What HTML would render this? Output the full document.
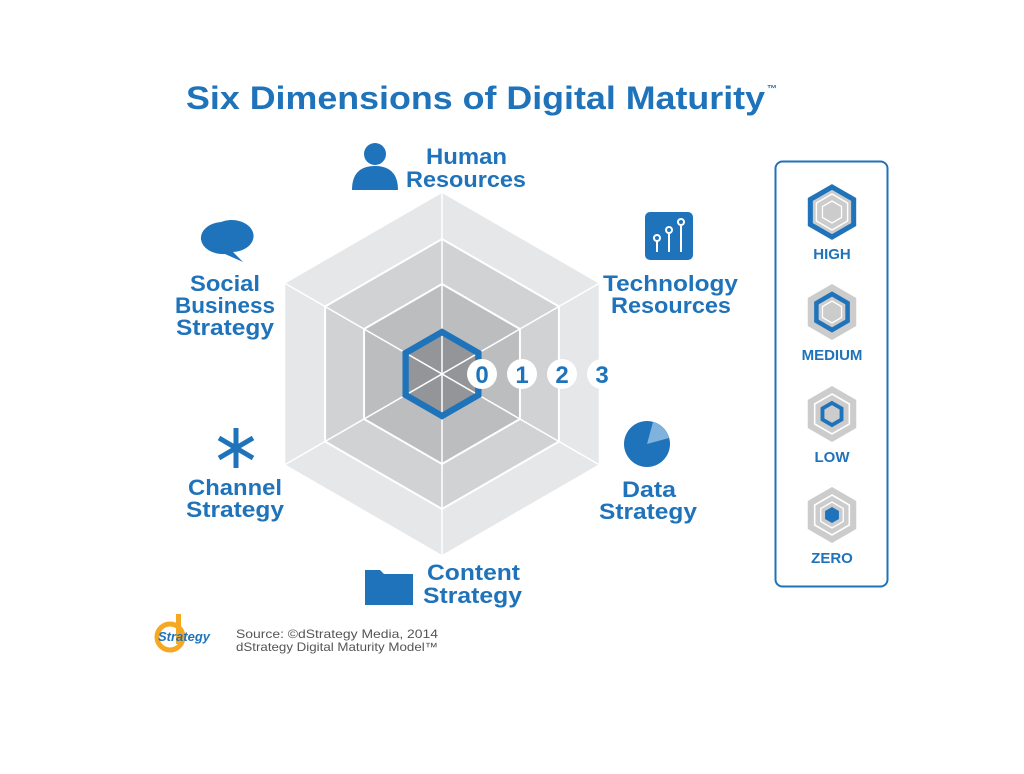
<!DOCTYPE html>
<html><head><meta charset="utf-8"><style>
body{margin:0;background:#fff;width:1024px;height:769px;overflow:hidden;font-family:"Liberation Sans",sans-serif}
</style></head><body>
<svg width="1024" height="769" viewBox="0 0 1024 769" xmlns="http://www.w3.org/2000/svg" font-family="Liberation Sans, sans-serif" font-weight="bold">
<defs>
<g id="hx"><polygon points="0,-1 0.866,-0.5 0.866,0.5 0,1 -0.866,0.5 -0.866,-0.5"/></g>
</defs>
<text x="186" y="109" font-size="32" fill="#1f73ba" textLength="579" lengthAdjust="spacingAndGlyphs">Six Dimensions of Digital Maturity</text>
<text x="767" y="92" font-size="10" fill="#1f73ba">™</text>
<g transform="translate(442,374)">
<g transform="scale(181)" fill="#e6e7e8"><use href="#hx"/></g>
<g transform="scale(135)" fill="#d1d2d4" stroke="#fff" stroke-width="0.015"><use href="#hx"/></g>
<g transform="scale(90)" fill="#bcbdbf" stroke="#fff" stroke-width="0.022"><use href="#hx"/></g>
<g transform="scale(42)" fill="#939598"><use href="#hx"/></g>
<g stroke="#fff" stroke-width="1.5">
<line x1="0" y1="-181" x2="0" y2="181"/>
<line x1="-156.8" y1="-90.5" x2="156.8" y2="90.5"/>
<line x1="-156.8" y1="90.5" x2="156.8" y2="-90.5"/>
</g>
<g transform="scale(42)" fill="none" stroke="#1f73ba" stroke-width="0.15"><use href="#hx"/></g>
<g font-size="24" fill="#1f73ba" text-anchor="middle">
<circle cx="40" cy="0" r="15" fill="#fff"/><text x="40" y="9">0</text>
<circle cx="80" cy="0" r="15" fill="#fff"/><text x="80" y="9">1</text>
<circle cx="120" cy="0" r="15" fill="#fff"/><text x="120" y="9">2</text>
<circle cx="160" cy="0" r="15" fill="#fff"/><text x="160" y="9">3</text>
</g>
</g>
<g font-size="22" fill="#1f73ba">
<text x="426" y="164" textLength="81" lengthAdjust="spacingAndGlyphs">Human</text><text x="406" y="187" textLength="120" lengthAdjust="spacingAndGlyphs">Resources</text>
<text x="603" y="291" textLength="135" lengthAdjust="spacingAndGlyphs">Technology</text><text x="611" y="313" textLength="120" lengthAdjust="spacingAndGlyphs">Resources</text>
<text x="622" y="497" textLength="54" lengthAdjust="spacingAndGlyphs">Data</text><text x="599" y="519" textLength="98" lengthAdjust="spacingAndGlyphs">Strategy</text>
<text x="427" y="580" textLength="93" lengthAdjust="spacingAndGlyphs">Content</text><text x="423" y="603" textLength="99" lengthAdjust="spacingAndGlyphs">Strategy</text>
<text x="188" y="495" textLength="94" lengthAdjust="spacingAndGlyphs">Channel</text><text x="186" y="517" textLength="98" lengthAdjust="spacingAndGlyphs">Strategy</text>
<text x="190" y="291" textLength="70" lengthAdjust="spacingAndGlyphs">Social</text><text x="175" y="313" textLength="100" lengthAdjust="spacingAndGlyphs">Business</text><text x="176" y="335" textLength="98" lengthAdjust="spacingAndGlyphs">Strategy</text>
</g>
<g fill="#1f73ba">
<circle cx="375" cy="154" r="11"/><path d="M352,190 q0,-24 23,-24 q23,0 23,24 z"/>
<rect x="645" y="212" width="48" height="48" rx="5"/>
<path d="M365,570 h15 l4,4 h29 v31 h-48 z"/>
<path d="M221,222 a22,16 0 1 1 12,30 l10,10 l-18,-8 a22,16 0 0 1 -4,-32z" />
<circle cx="647" cy="444" r="23"/>
<g stroke="#1f73ba" stroke-width="5" fill="none"><line x1="236" y1="428" x2="236" y2="468"/><line x1="219" y1="438" x2="253" y2="458"/><line x1="219" y1="458" x2="253" y2="438"/></g>
</g>
<g stroke="#fff" stroke-width="2" fill="none"><path d="M657,252 v-12 M669,252 v-20 M681,252 v-26"/><circle cx="657" cy="238" r="3"/><circle cx="669" cy="230" r="3"/><circle cx="681" cy="222" r="3"/></g>
<path d="M647,444 l6,-22 a23,23 0 0 1 16,16 z" fill="#7fb2dd"/>
<rect x="775.5" y="161.5" width="112" height="425" rx="7" fill="#fff" stroke="#1f73ba" stroke-width="2"/>
<g transform="translate(832,212)"><g transform="scale(28)" fill="#ccc"><use href="#hx"/></g><g transform="scale(18)" fill="none" stroke="#fff" stroke-width="0.08"><use href="#hx"/></g><g transform="scale(11)" fill="none" stroke="#fff" stroke-width="0.12"><use href="#hx"/></g><g transform="scale(25)" fill="none" stroke="#1f73ba" stroke-width="0.2"><use href="#hx"/></g></g>
<g transform="translate(832,312)"><g transform="scale(28)" fill="#ccc"><use href="#hx"/></g><g transform="scale(11)" fill="none" stroke="#fff" stroke-width="0.12"><use href="#hx"/></g><g transform="scale(18)" fill="none" stroke="#1f73ba" stroke-width="0.25"><use href="#hx"/></g></g>
<g transform="translate(832,414)"><g transform="scale(28)" fill="#ccc"><use href="#hx"/></g><g transform="scale(20)" fill="none" stroke="#fff" stroke-width="0.08"><use href="#hx"/></g><g transform="scale(11)" fill="none" stroke="#1f73ba" stroke-width="0.35"><use href="#hx"/></g></g>
<g transform="translate(832,515)"><g transform="scale(28)" fill="#ccc"><use href="#hx"/></g><g transform="scale(20)" fill="none" stroke="#fff" stroke-width="0.08"><use href="#hx"/></g><g transform="scale(13)" fill="none" stroke="#fff" stroke-width="0.1"><use href="#hx"/></g><g transform="scale(8)" fill="#1f73ba"><use href="#hx"/></g></g>
<g font-size="15" fill="#1f73ba" text-anchor="middle">
<text x="832" y="259">HIGH</text><text x="832" y="360">MEDIUM</text><text x="832" y="462">LOW</text><text x="832" y="563">ZERO</text>
</g>
<circle cx="170" cy="637" r="13" fill="none" stroke="#f7a823" stroke-width="5"/>
<rect x="176" y="614" width="5" height="30" fill="#f7a823"/>
<text x="158" y="641" font-size="13" fill="#1f73ba" font-style="italic">Strategy</text>
<g font-size="12" font-weight="normal" fill="#555">
<text x="236" y="638" textLength="202" lengthAdjust="spacingAndGlyphs">Source: ©dStrategy Media, 2014</text>
<text x="236" y="651" textLength="202" lengthAdjust="spacingAndGlyphs">dStrategy Digital Maturity Model™</text>
</g>
</svg>
</body></html>
